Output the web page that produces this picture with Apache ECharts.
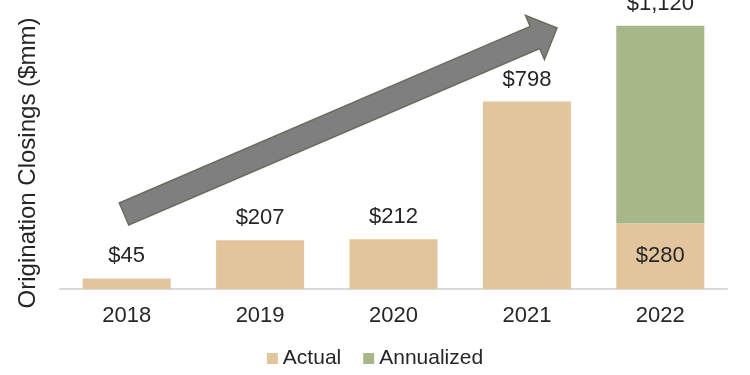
<!DOCTYPE html>
<html><head><meta charset="utf-8">
<script src="https://cdn.jsdelivr.net/npm/echarts@6/dist/echarts.min.js"></script>
<style>html,body{margin:0;padding:0;background:#fff}#c{width:750px;height:375px}</style>
</head><body><div id="c"></div>
<script>
const categories = ['2018', '2019', '2020', '2021', '2022'];
const actual = [45, 207, 212, 798, 280];
const annualized = [null, null, null, null, 840];
const seriesNames = ['Actual', 'Annualized'];
const yTitle = 'Origination Closings ($mm)';

const fmt = v => '$' + v.toLocaleString('en-US');
const FONT = 'Liberation Sans, Arial, sans-serif';
const TXT = '#262626';

const chart = echarts.init(document.getElementById('c'));

const actualData = actual.map((v, i) => {
  const inside = annualized[i] != null;
  return {
    value: v,
    label: inside ? { show: true, position: 'inside' } : { show: true, position: 'top', distance: 11 }
  };
});
const annData = annualized.map((v, i) => v == null ? { value: null } : {
  value: v,
  label: { show: true, position: 'top', distance: 11, formatter: () => fmt(actual[i] + v) }
});

// decorative arrow (pixel polygon)
const tail = [124, 214], tip = [557, 28];
const dx = tip[0] - tail[0], dy = tip[1] - tail[1];
const L = Math.hypot(dx, dy);
const u = [dx / L, dy / L], n = [-u[1], u[0]];
const hw = 12, headHw = 24, headLen = 24;
const B = [tip[0] - headLen * u[0], tip[1] - headLen * u[1]];
const P = (p, k) => [p[0] + k * n[0], p[1] + k * n[1]];
const arrowPts = [P(tail, -hw), P(B, -hw), P(B, -headHw), tip, P(B, headHw), P(B, hw), P(tail, hw)];

chart.setOption({
  animation: false,
  textStyle: { fontFamily: FONT },
  grid: { left: 60, right: 23, top: 7, bottom: 86 },
  legend: {
    data: seriesNames,
    bottom: 1,
    left: 'center',
    itemWidth: 11, itemHeight: 11, itemGap: 22,
    icon: 'rect',
    textStyle: { fontSize: 21, color: TXT, fontFamily: FONT }
  },
  xAxis: {
    type: 'category',
    data: categories,
    axisLine: { lineStyle: { color: '#d9d9d9', width: 2 } },
    axisTick: { show: false },
    axisLabel: { fontSize: 22, color: TXT, margin: 16, fontFamily: FONT }
  },
  yAxis: {
    type: 'value', min: 0, max: 1200,
    axisLine: { show: false }, axisTick: { show: false },
    axisLabel: { show: false }, splitLine: { show: false }
  },
  series: [
    {
      name: seriesNames[0], type: 'bar', stack: 's', barWidth: '66%',
      itemStyle: { color: '#E2C59D' },
      label: { fontSize: 22, color: TXT, fontFamily: FONT, formatter: p => fmt(p.value) },
      data: actualData
    },
    {
      name: seriesNames[1], type: 'bar', stack: 's', barWidth: '66%',
      itemStyle: { color: '#A8B78A' },
      label: { fontSize: 22, color: TXT, fontFamily: FONT },
      data: annData
    }
  ],
  graphic: [
    {
      type: 'text', x: 28, y: 163, rotation: Math.PI / 2,
      style: { text: yTitle, fontSize: 24, fill: TXT, fontFamily: FONT, align: 'center', verticalAlign: 'middle' }
    },
    {
      type: 'polygon', z: 100,
      shape: { points: arrowPts },
      style: { fill: '#7f7f7f', stroke: '#6e6a5c', lineWidth: 1.5 }
    }
  ]
});
</script>
</body></html>
